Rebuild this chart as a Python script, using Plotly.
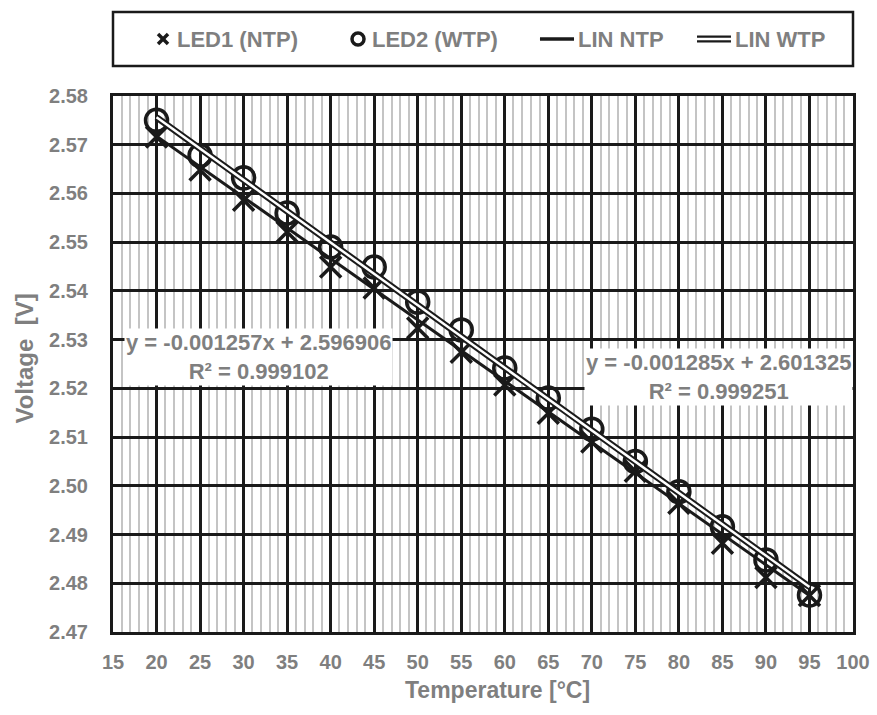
import plotly.graph_objects as go

temps = [20, 25, 30, 35, 40, 45, 50, 55, 60, 65, 70, 75, 80, 85, 90, 95]
led1_ntp = [2.5716, 2.5648, 2.5586, 2.5521, 2.5449, 2.5406, 2.5324, 2.5274,
            2.5207, 2.5149, 2.5090, 2.5030, 2.4964, 2.4882, 2.4812, 2.4775]
led2_wtp = [2.5750, 2.5678, 2.5632, 2.5560, 2.5490, 2.5449, 2.5377, 2.5320,
            2.5242, 2.5180, 2.5116, 2.5050, 2.4988, 2.4916, 2.4848, 2.4776]
fit_ntp = (-0.001257, 2.596906, 0.999102)
fit_wtp = (-0.001285, 2.601325, 0.999251)
fit_x = [20, 95]
legend_names = ["LED1 (NTP)", "LED2 (WTP)", "LIN NTP", "LIN WTP"]
x_title = "Temperature [°C]"
y_title = "Voltage [V]"

GRAY = "#7f7f7f"
INK = "#1a1a1a"
FONT = "Liberation Sans, Arial, sans-serif"

fig = go.Figure()

ntp_line = [fit_ntp[0] * x + fit_ntp[1] for x in fit_x]
wtp_line = [fit_wtp[0] * x + fit_wtp[1] for x in fit_x]

fig.add_trace(go.Scatter(x=temps, y=led1_ntp, mode="markers", name=legend_names[0],
                         marker=dict(symbol="x-thin-open", size=21, color=INK,
                                     line=dict(color=INK, width=3.5))))
fig.add_trace(go.Scatter(x=temps, y=led2_wtp, mode="markers", name=legend_names[1],
                         marker=dict(symbol="circle-open", size=22, color=INK,
                                     line=dict(color=INK, width=3.5))))
fig.add_trace(go.Scatter(x=fit_x, y=ntp_line, mode="lines", name=legend_names[2],
                         line=dict(color=INK, width=3)))
fig.add_trace(go.Scatter(x=fit_x, y=wtp_line, mode="lines", name=legend_names[3],
                         line=dict(color=INK, width=6.5)))
fig.add_trace(go.Scatter(x=fit_x, y=wtp_line, mode="lines", name=legend_names[3],
                         hoverinfo="skip", line=dict(color="white", width=2.5)))

ann_font = dict(family=FONT, size=22, color=GRAY, weight="bold")
fig.add_annotation(x=31.7, y=2.5264, xref="x", yref="y",
                   text=f"y = {fit_ntp[0]:.6f}x + {fit_ntp[1]:.6f}<br>R² = {fit_ntp[2]:.6f}",
                   showarrow=False, bgcolor="white", borderpad=1, font=ann_font)
fig.add_annotation(x=100, y=2.5224, xref="x", yref="y", xanchor="right",
                   text=f"y = {fit_wtp[0]:.6f}x + {fit_wtp[1]:.6f}<br>R² = {fit_wtp[2]:.6f}",
                   showarrow=False, bgcolor="white", borderpad=1, font=ann_font)

# axis titles
title_font = dict(family=FONT, size=23, color=GRAY, weight="bold")
fig.add_annotation(x=0.52, y=-0.108, xref="paper", yref="paper", text=x_title,
                   showarrow=False, xanchor="center", yanchor="middle", font=title_font)
fig.add_annotation(x=-0.119, y=0.51, xref="paper", yref="paper",
                   text=y_title.replace(" ", "&nbsp;&nbsp;"), textangle=-90,
                   showarrow=False, xanchor="center", yanchor="middle",
                   font=dict(family=FONT, size=24, color=GRAY, weight="bold"))

# ---- manual legend (frame, glyphs, labels) ----
LY = 1.1063
fig.add_shape(type="rect", xref="paper", yref="paper", x0=0, x1=1,
              y0=1.056, y1=1.1567, line=dict(color=INK, width=2.5),
              fillcolor="white", layer="below")
for s in (1, -1):
    fig.add_shape(type="line", xref="paper", yref="paper",
                  xsizemode="pixel", ysizemode="pixel", xanchor=0.0676, yanchor=LY,
                  x0=-5, x1=5, y0=-5 * s, y1=5 * s, line=dict(color=INK, width=3.5))
fig.add_shape(type="circle", xref="paper", yref="paper",
              xsizemode="pixel", ysizemode="pixel", xanchor=0.3311, yanchor=LY,
              x0=-6, x1=6, y0=-6, y1=6, line=dict(color=INK, width=3.5))
fig.add_shape(type="line", xref="paper", yref="paper", x0=0.5770, x1=0.6230,
              y0=LY, y1=LY, line=dict(color=INK, width=3.5))
fig.add_shape(type="line", xref="paper", yref="paper", x0=0.7892, x1=0.8351,
              y0=LY, y1=LY, line=dict(color=INK, width=7))
fig.add_shape(type="line", xref="paper", yref="paper", x0=0.7892, x1=0.8351,
              y0=LY, y1=LY, line=dict(color="white", width=2.5))
leg_font = dict(family=FONT, size=22, color=GRAY, weight="bold")
for name, xp in zip(legend_names, [0.0838, 0.3473, 0.6257, 0.8378]):
    fig.add_annotation(x=xp, y=LY, xref="paper", yref="paper", xanchor="left",
                       yanchor="middle", text=name, showarrow=False, font=leg_font)

fig.update_layout(
    width=877, height=715,
    margin=dict(l=113, r=24, t=96, b=83),
    paper_bgcolor="white", plot_bgcolor="white",
    showlegend=False,
    font=dict(family=FONT, color=GRAY),
    xaxis=dict(range=[15, 100], dtick=5, tick0=15, automargin=False,
               showgrid=True, gridcolor=INK, gridwidth=3,
               minor=dict(dtick=1, showgrid=True, gridcolor="#c4c4c4", gridwidth=1.5),
               showline=True, linecolor=INK, linewidth=3, mirror=True,
               zeroline=False, ticks="", ticklabelstandoff=10,
               ticklabeloverflow="allow",
               tickfont=dict(family=FONT, size=20, color=GRAY, weight="bold")),
    yaxis=dict(range=[2.47, 2.58], dtick=0.01, tick0=2.47, tickformat=".2f",
               automargin=False,
               showgrid=True, gridcolor=INK, gridwidth=3,
               showline=True, linecolor=INK, linewidth=3, mirror=True,
               zeroline=False, ticks="", ticklabelstandoff=18,
               tickfont=dict(family=FONT, size=20, color=GRAY, weight="bold")),
)

fig.write_html("out.html", config={"displayModeBar": False},
               post_script="document.body.style.margin='0';document.body.style.overflow='hidden';")
